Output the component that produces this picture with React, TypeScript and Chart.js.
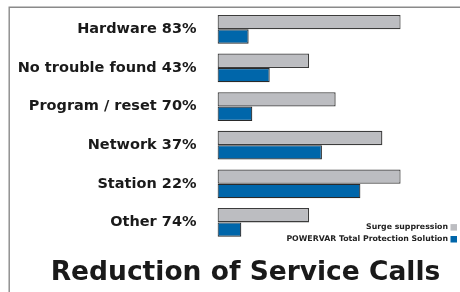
import React, { useEffect, useRef } from "react";
import { Chart, registerables } from "chart.js";

Chart.register(...registerables);

const categories = [
  "Hardware 83%",
  "No trouble found 43%",
  "Program / reset 70%",
  "Network 37%",
  "Station 22%",
  "Other 74%",
];
const surgeValues = [100, 50, 64.5, 90, 100, 50];
const powervarValues = [17, 28.5, 19, 57, 78, 13];
const seriesNames = ["Surge suppression", "POWERVAR Total Protection Solution"];
const chartTitle = "Reduction of Service Calls";

const GRAY = "#bcbdc1";
const BLUE = "#0066aa";
const FONT = "'DejaVu Sans', Verdana, sans-serif";

const decorPlugin = {
  id: "decor",
  beforeDraw(chart: any) {
    const ctx = chart.ctx;
    ctx.save();
    ctx.strokeStyle = "#8a8a8a";
    ctx.lineWidth = 1.4;
    ctx.beginPath();
    ctx.moveTo(460, 7.2);
    ctx.lineTo(9.2, 7.2);
    ctx.lineTo(9.2, 292);
    ctx.stroke();
    ctx.restore();
  },
  afterDraw(chart: any) {
    const ctx = chart.ctx;
    ctx.save();
    // legend
    ctx.font = `bold 7.8px ${FONT}`;
    ctx.textAlign = "right";
    ctx.textBaseline = "middle";
    const colors = [GRAY, BLUE];
    const ys = [227.3, 239.2];
    seriesNames.forEach((name, i) => {
      ctx.fillStyle = "#222";
      ctx.fillText(name, 448, ys[i]);
      ctx.fillStyle = colors[i];
      ctx.fillRect(450.5, ys[i] - 3.2, 6.5, 6.5);
    });
    // title
    ctx.font = `bold 26.5px ${FONT}`;
    ctx.textAlign = "center";
    ctx.textBaseline = "alphabetic";
    ctx.fillStyle = "#1a1a1a";
    ctx.fillText(chartTitle, 245.5, 280);
    ctx.restore();
  },
};

export default function App() {
  const ref = useRef<HTMLCanvasElement>(null);
  useEffect(() => {
    if (!ref.current) return;
    const chart = new Chart(ref.current, {
      type: "bar",
      data: {
        labels: categories,
        datasets: [
          {
            label: seriesNames[0],
            data: surgeValues,
            backgroundColor: GRAY,
            borderColor: "#3c3c3c",
            borderWidth: 1.3,
            borderSkipped: false,
          },
          {
            label: seriesNames[1],
            data: powervarValues,
            backgroundColor: BLUE,
            borderColor: "#2a2a2a",
            borderWidth: 1.2,
            borderSkipped: false,
          },
        ],
      },
      options: {
        indexAxis: "y",
        animation: false,
        responsive: false,
        maintainAspectRatio: false,
        categoryPercentage: 0.744,
        barPercentage: 1.0,
        layout: { padding: { top: 10, bottom: 50.3, left: 0, right: 59.3 } },
        plugins: {
          legend: { display: false },
          title: { display: false },
          tooltip: { enabled: false },
        },
        scales: {
          x: { display: false, min: 0, max: 100 },
          y: {
            grid: { display: false },
            border: { display: false },
            ticks: {
              color: "#1a1a1a",
              padding: 13,
              font: { family: FONT, size: 14.5, weight: "bold" },
            },
            afterFit(scale: any) {
              scale.width = 217.5;
              scale.paddingTop = 0;
              scale.paddingBottom = 0;
            },
          },
        },
      },
      plugins: [decorPlugin],
    } as any);
    return () => chart.destroy();
  }, []);
  return (
    <div style={{ position: "fixed", left: 0, top: 0, width: 460, height: 292, background: "#fff" }}>
      <canvas ref={ref} width={460} height={292} style={{ display: "block" }} />
    </div>
  );
}
